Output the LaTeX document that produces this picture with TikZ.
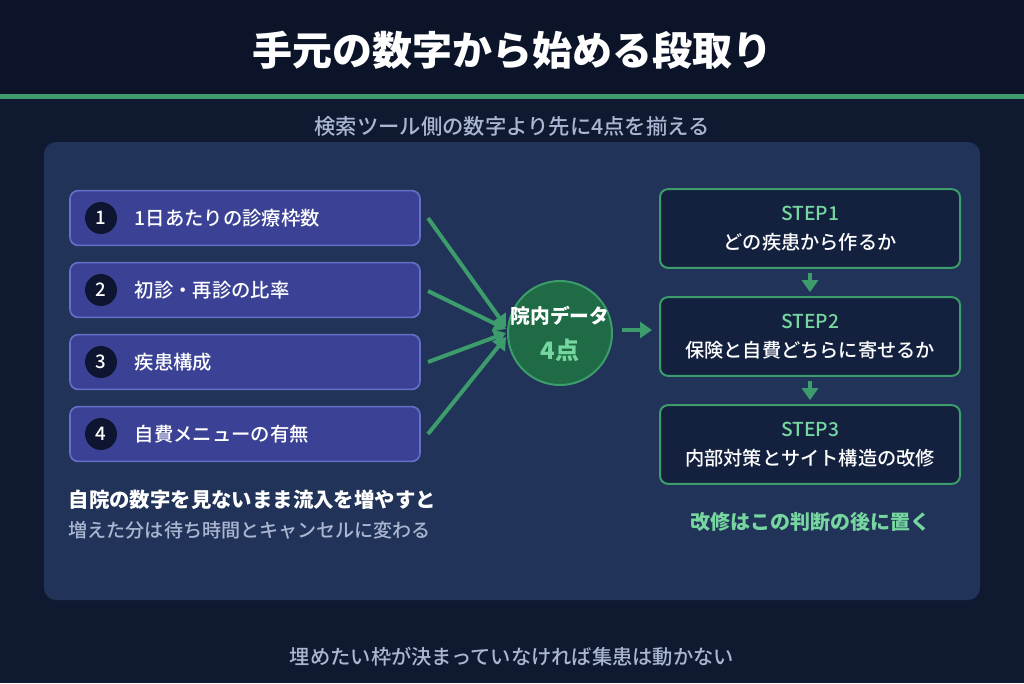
\documentclass[tikz,border=0pt]{standalone}
\usepackage{fontspec}
\setmainfont{Noto Sans CJK JP}
\newfontfamily\med{Noto Sans CJK JP Medium}
\usetikzlibrary{arrows.meta}
\definecolor{bg}{HTML}{0F1A30}
\definecolor{hdr}{HTML}{0C1429}
\definecolor{panel}{HTML}{213358}
\definecolor{itemf}{HTML}{3B4296}
\definecolor{itemd}{HTML}{6670C8}
\definecolor{numc}{HTML}{0D1530}
\definecolor{grn}{HTML}{3C9C6C}
\definecolor{grnl}{HTML}{76D6A0}
\definecolor{stepf}{HTML}{13213F}
\definecolor{circf}{HTML}{1E6B45}
\definecolor{sub}{HTML}{AAB6D2}
\tikzset{
 item/.style={draw=itemd,fill=itemf,line width=1.2pt,rounded corners=6pt,minimum width=262.5pt,minimum height=41pt,inner sep=0pt},
 num/.style={circle,fill=numc,minimum size=24pt,inner sep=0pt,text=white,font=\fontsize{14}{14}\med},
 itxt/.style={anchor=west,text=white,font=\fontsize{14.5}{15}\med},
 stepbox/.style={draw=grn,fill=stepf,line width=1.5pt,rounded corners=6pt,minimum width=225pt,minimum height=59pt,align=center,inner sep=0pt,text=white,font=\fontsize{14.4}{22}\med},
 arr/.style={grn,line width=3pt,-{Triangle[length=9pt,width=12pt]}},
}
\begin{document}
\begin{tikzpicture}[x=0.75pt,y=-0.75pt]
\useasboundingbox (0,0) rectangle (1024,683);
\fill[bg] (0,0) rectangle (1024,683);
\fill[hdr] (0,0) rectangle (1024,94);
\fill[grn] (0,94) rectangle (1024,99);
\node[text=white,font=\fontsize{30}{30}\selectfont\bfseries] (title) at (512,50) {手元の数字から始める段取り};
\node[text=sub,font=\fontsize{16}{16}\med] (subt) at (512,126) {検索ツール側の数字より先に4点を揃える};
\fill[panel,rounded corners=9pt] (44,142) rectangle (980,600);
\foreach \i/\y/\t in {1/218/1日あたりの診療枠数,2/290/初診・再診の比率,3/362/疾患構成,4/434/自費メニューの有無}{
 \node[item] (b\i) at (245,\y) {};
 \node[num] (n\i) at (101,\y) {\i};
 \node[itxt] (t\i) at (130,\y) {\t};
}
\node[circle,draw=grn,fill=circf,line width=1.5pt,minimum size=78pt,inner sep=0pt] (c) at (560,333) {};
\node[text=white,font=\fontsize{14.8}{15}\selectfont\bfseries] (c1) at (560,316) {院内データ};
\node[text=grnl,font=\fontsize{18}{18}\selectfont\bfseries] (c2) at (560,350) {4点};
\coordinate (a1) at (428,218);
\coordinate (a2) at (428,291);
\coordinate (a3) at (428,362);
\coordinate (a4) at (428,434);
\coordinate (e1) at (506,327);
\coordinate (e2) at (506,329);
\coordinate (e3) at (506,333);
\coordinate (e4) at (506,337);
\foreach \i in {1,...,4}{\draw[arr] (a\i) -- (e\i);}
\coordinate (o1) at (622,330);
\coordinate (o2) at (652,330);
\draw[arr] (o1) -- (o2);
\node[stepbox] (s1) at (810,228.5) {\textcolor{grnl}{STEP1}\\どの疾患から作るか};
\node[stepbox] (s2) at (810,336.5) {\textcolor{grnl}{STEP2}\\保険と自費どちらに寄せるか};
\node[stepbox] (s3) at (810,444.5) {\textcolor{grnl}{STEP3}\\内部対策とサイト構造の改修};
\draw[arr,line width=2.5pt] ([yshift=-3pt]s1.south) -- ([yshift=3pt]s2.north);
\draw[arr,line width=2.5pt] ([yshift=-3pt]s2.south) -- ([yshift=3pt]s3.north);
\node[text=grnl,font=\fontsize{15}{15}\selectfont\bfseries] (note) at (810,522) {改修はこの判断の後に置く};
\node[anchor=west,text=white,font=\fontsize{15.3}{15}\selectfont\bfseries] (w1) at (64,500) {自院の数字を見ないまま流入を増やすと};
\node[anchor=west,text=sub,font=\fontsize{14.3}{15}\med] (w2) at (64,530) {増えた分は待ち時間とキャンセルに変わる};
\node[text=sub,font=\fontsize{15.2}{15}\med] (foot) at (512,657) {埋めたい枠が決まっていなければ集患は動かない};
\end{tikzpicture}
\end{document}
